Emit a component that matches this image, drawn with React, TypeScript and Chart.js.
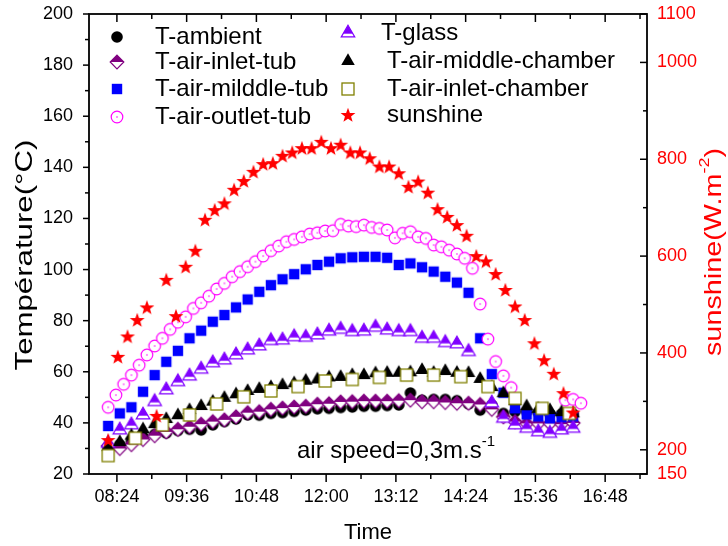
import React, { useEffect, useRef } from "react";
import { Chart, registerables } from "chart.js";

Chart.register(...registerables);

const FONT = '"Liberation Sans", Arial, Helvetica, sans-serif';

// ---- axis ticks ----
const TIME_TICKS = ["08:24", "09:36", "10:48", "12:00", "13:12", "14:24", "15:36", "16:48"];
const TIME_MINOR_TICKS = ["09:00", "10:12", "11:24", "12:36", "13:48", "15:00", "16:12", "17:24"];
const TEMP_TICKS = [20, 40, 60, 80, 100, 120, 140, 160, 180, 200];
const TEMP_MINOR_TICKS = [30, 50, 70, 90, 110, 130, 150, 170, 190];
const SUN_TICKS = [150, 200, 400, 600, 800, 1000, 1100];
const SUN_MINOR_TICKS = [300, 500, 700, 900];
const X_MIN = 475.2; // minutes after midnight (07:55)
const X_MAX = 1051.2; // (17:31)

// ---- sample times ----
const TIMES_12MIN = [
  "08:15", "08:27", "08:39", "08:51", "09:03", "09:15", "09:27", "09:39", "09:51", "10:03",
  "10:15", "10:27", "10:39", "10:51", "11:03", "11:15", "11:27", "11:39", "11:51", "12:03",
  "12:15", "12:27", "12:39", "12:51", "13:03", "13:15", "13:27", "13:39", "13:51", "14:03",
  "14:15", "14:27", "14:39", "14:51", "15:03", "15:15", "15:27", "15:39", "15:51", "16:03",
  "16:15",
];
const TIMES_OUTLET = [
  "08:15", "08:23", "08:31", "08:39", "08:47", "08:55", "09:03", "09:11", "09:19", "09:27",
  "09:35", "09:43", "09:51", "09:59", "10:07", "10:15", "10:23", "10:31", "10:39", "10:47",
  "10:55", "11:03", "11:11", "11:19", "11:27", "11:35", "11:43", "11:51", "11:59", "12:07",
  "12:15", "12:23", "12:31", "12:39", "12:47", "12:55", "13:03", "13:11", "13:19", "13:27",
  "13:35", "13:43", "13:51", "13:59", "14:07", "14:15", "14:23", "14:31", "14:39", "14:47",
  "14:55", "15:03", "15:11", "16:07", "16:15", "16:23",
];
const TIMES_10MIN = [
  "08:15", "08:25", "08:35", "08:45", "08:55", "09:05", "09:15", "09:25", "09:35", "09:45",
  "09:55", "10:05", "10:15", "10:25", "10:35", "10:45", "10:55", "11:05", "11:15", "11:25",
  "11:35", "11:45", "11:55", "12:05", "12:15", "12:25", "12:35", "12:45", "12:55", "13:05",
  "13:15", "13:25", "13:35", "13:45", "13:55", "14:05", "14:15", "14:25", "14:35", "14:45",
  "14:55", "15:05", "15:15", "15:25", "15:35", "15:45", "15:55", "16:05", "16:15",
];
const TIMES_28MIN = [
  "08:15", "08:43", "09:11", "09:39", "10:07", "10:35", "11:03", "11:31", "11:59", "12:27",
  "12:55", "13:23", "13:51", "14:19", "14:47", "15:15", "15:43", "16:11",
];

// ---- series values ----
const T_AMBIENT = [
  30, 31.5, 33, 34.5, 35.5, 36, 37, 37.5, 37.2, 39.2, 40.5, 41.5, 43.1, 43, 43.7, 44, 44.5, 45,
  45.5, 45.7, 46, 46.2, 46.5, 46.5, 46.8, 47, 51.7, 48.9, 49.2, 49.2, 48.7, 47.4, 45, 47, 43.7,
  44.4, 44.4, 44, 43.5, 43.5, 43.5,
];
const T_AIR_INLET_TUB = [
  31, 30, 31.5, 33.5, 35, 36.5, 37.5, 38.5, 39.5, 40.5, 41.2, 42.4, 44, 44.4, 45.3, 45.8, 46.2,
  46.5, 47.3, 47.5, 48.2, 48.3, 48.5, 48.5, 48.5, 48.7, 48.9, 48.3, 48.3, 48, 47.7, 47.7, 47.2,
  45.3, 42.4, 40.5, 39.8, 39.8, 39.8, 39.5, 40,
];
const T_AIR_MIDDLE_TUB = [
  38.8, 43.7, 46.1, 52.2, 58.7, 63.9, 68.2, 73.1, 76.1, 79.6, 82.2, 85.2, 88.3, 91.3, 93.9, 96.2,
  98.2, 100.1, 101.8, 103.1, 104.4, 104.8, 105, 105, 104.6, 101.8, 102.4, 100.9, 99.2, 97.2, 94.9,
  90.9, 73.1, 59.1, 51.8, 45.7, 43.3, 42.5, 41.8, 42.2, 42.5,
];
const T_AIR_OUTLET_TUB = [
  46.1, 50.9, 55.1, 58.7, 62.6, 66.6, 70.1, 73.1, 76.6, 79.4, 81.5, 84.8, 87, 89.6, 92.4, 94.6,
  97.2, 99.2, 101.1, 103.1, 105.3, 107.4, 109.2, 110.9, 111.8, 112.8, 113.9, 114.4, 115.1, 115.2,
  117.7, 117, 116.8, 117.4, 116.5, 116.1, 115.5, 112.4, 114.2, 114.8, 112.8, 112.2, 109.6, 108.9,
  107.6, 106.1, 104.4, 100.5, 86.5, 72.8, 64, 58.4, 53.8, 48.9, 49.2, 47.7,
];
const T_GLASS = [
  32, 37.2, 39.2, 43.1, 48.3, 52.9, 56.1, 58.3, 61, 63.5, 64.6, 66.6, 68.5, 70.1, 72.2, 72.4,
  73.7, 73.5, 74.4, 75.9, 76.6, 75.7, 75.9, 77.4, 76.3, 75.7, 75.7, 73.1, 73.1, 71.4, 70.9, 67.9,
  null, 47.8, 41.8, 39.2, 37.9, 36.5, 35.9, 37.2, 37.9,
];
const T_AIR_MIDDLE_CHAMBER = [
  30.5, 32.5, 35, 37.5, 39.5, 41.5, 43, 45, 46.6, 48.3, 49.8, 51.2, 52.5, 53.3, 54, 54.8, 55.5,
  56.5, 57, 57.8, 58, 58.7, 58.7, 59.4, 59.6, 59.6, 59.8, 60.7, 59.6, 60.3, 59.6, 59.5, 57.2, 54,
  51.6, 48.5, 46.5, 45.5, 45, 44.2, 43.7,
];
const T_AIR_INLET_CHAMBER = [
  27.2, 34, 39.2, 43.1, 47.4, 50.2, 52.5, 54.2, 56.4, 57, 57.8, 58.7, 58.7, 58.1, 54.2, 49.6,
  45.7, 43.7,
];
const SUNSHINE = [
  220, 392, 434, 468, 494, 270, 551, 476, 578, 611, 675, 695, 709, 737, 755, 774, 790, 792, 807,
  814, 823, 823, 836, 823, 830, 814, 814, 802, 785, 785, 771, 743, 754, 731, 697, 681, 664, 642,
  600, 589, 563, 530, 496, 468, 420, 385, 357, 317, 277,
];

const toMin = (s: string) => {
  const [h, m] = s.split(":").map(Number);
  return h * 60 + m;
};

type MarkerKey =
  | "ambient" | "inletTub" | "middleTub" | "outletTub"
  | "glass" | "middleChamber" | "inletChamber" | "sunshine";

function makeCanvas(size: number, draw: (ctx: CanvasRenderingContext2D, c: number) => void) {
  const cv = document.createElement("canvas");
  cv.width = size;
  cv.height = size;
  const ctx = cv.getContext("2d")!;
  draw(ctx, size / 2);
  return cv;
}

function makeMarkers(): Record<MarkerKey, HTMLCanvasElement> {
  const S = 20;
  return {
    ambient: makeCanvas(S, (ctx, c) => {
      ctx.fillStyle = "#000";
      ctx.beginPath();
      ctx.arc(c, c, 5.8, 0, Math.PI * 2);
      ctx.fill();
    }),
    inletTub: makeCanvas(S, (ctx, c) => {
      const r = 6.8;
      const diamond = () => {
        ctx.beginPath();
        ctx.moveTo(c, c - r);
        ctx.lineTo(c + r, c);
        ctx.lineTo(c, c + r);
        ctx.lineTo(c - r, c);
        ctx.closePath();
      };
      diamond();
      ctx.fillStyle = "#fff";
      ctx.fill();
      ctx.beginPath();
      ctx.moveTo(c, c - r);
      ctx.lineTo(c + r, c);
      ctx.lineTo(c - r, c);
      ctx.closePath();
      ctx.fillStyle = "#800080";
      ctx.fill();
      diamond();
      ctx.strokeStyle = "#800080";
      ctx.lineWidth = 1.2;
      ctx.stroke();
    }),
    middleTub: makeCanvas(S, (ctx, c) => {
      ctx.fillStyle = "#0000ff";
      ctx.fillRect(c - 5.2, c - 5.2, 10.4, 10.4);
    }),
    outletTub: makeCanvas(S, (ctx, c) => {
      ctx.beginPath();
      ctx.arc(c, c, 5.8, 0, Math.PI * 2);
      ctx.fillStyle = "#fff";
      ctx.fill();
      ctx.strokeStyle = "#ff00ff";
      ctx.lineWidth = 1.2;
      ctx.stroke();
      ctx.beginPath();
      ctx.arc(c, c, 0.8, 0, Math.PI * 2);
      ctx.fillStyle = "#ff00ff";
      ctx.fill();
    }),
    glass: makeCanvas(S, (ctx, c) => {
      const R = 7.8;
      const top = c - R, bot = c + R / 2, hw = (R * Math.sqrt(3)) / 2;
      const path = () => {
        ctx.beginPath();
        ctx.moveTo(c, top);
        ctx.lineTo(c + hw, bot);
        ctx.lineTo(c - hw, bot);
        ctx.closePath();
      };
      path();
      ctx.fillStyle = "#fff";
      ctx.fill();
      ctx.save();
      path();
      ctx.clip();
      ctx.fillStyle = "#8000ff";
      ctx.fillRect(0, 0, S, bot - 3.2);
      ctx.restore();
      path();
      ctx.strokeStyle = "#8000ff";
      ctx.lineWidth = 1.2;
      ctx.stroke();
    }),
    middleChamber: makeCanvas(S, (ctx, c) => {
      const R = 7.8;
      const hw = (R * Math.sqrt(3)) / 2;
      ctx.beginPath();
      ctx.moveTo(c, c - R);
      ctx.lineTo(c + hw, c + R / 2);
      ctx.lineTo(c - hw, c + R / 2);
      ctx.closePath();
      ctx.fillStyle = "#000";
      ctx.fill();
    }),
    inletChamber: makeCanvas(S, (ctx, c) => {
      ctx.fillStyle = "#fff";
      ctx.fillRect(c - 6, c - 6, 12, 12);
      ctx.strokeStyle = "#808000";
      ctx.lineWidth = 1.3;
      ctx.strokeRect(c - 6, c - 6, 12, 12);
    }),
    sunshine: makeCanvas(S, (ctx, c) => {
      const Ro = 7.8, Ri = 3.2;
      ctx.beginPath();
      for (let i = 0; i < 10; i++) {
        const a = -Math.PI / 2 + (i * Math.PI) / 5;
        const r = i % 2 === 0 ? Ro : Ri;
        const px = c + r * Math.cos(a), py = c + 0.5 + r * Math.sin(a);
        if (i === 0) ctx.moveTo(px, py);
        else ctx.lineTo(px, py);
      }
      ctx.closePath();
      ctx.fillStyle = "#ff0000";
      ctx.fill();
    }),
  };
}

const SERIES: {
  key: MarkerKey; label: string; times: string[]; values: (number | null)[]; axis: string; order: number;
}[] = [
  { key: "ambient", label: "T-ambient", times: TIMES_12MIN, values: T_AMBIENT, axis: "y", order: 8 },
  { key: "inletTub", label: "T-air-inlet-tub", times: TIMES_12MIN, values: T_AIR_INLET_TUB, axis: "y", order: 7 },
  { key: "middleTub", label: "T-air-milddle-tub", times: TIMES_12MIN, values: T_AIR_MIDDLE_TUB, axis: "y", order: 6 },
  { key: "outletTub", label: "T-air-outlet-tub", times: TIMES_OUTLET, values: T_AIR_OUTLET_TUB, axis: "y", order: 5 },
  { key: "glass", label: "T-glass", times: TIMES_12MIN, values: T_GLASS, axis: "y", order: 4 },
  { key: "middleChamber", label: "T-air-middle-chamber", times: TIMES_12MIN, values: T_AIR_MIDDLE_CHAMBER, axis: "y", order: 3 },
  { key: "inletChamber", label: "T-air-inlet-chamber", times: TIMES_28MIN, values: T_AIR_INLET_CHAMBER, axis: "y", order: 2 },
  { key: "sunshine", label: "sunshine", times: TIMES_10MIN, values: SUNSHINE, axis: "y2", order: 1 },
];

// legend layout: [series index, marker x, marker y, text x]
const LEGEND_LAYOUT = [
  [0, 117, 37, 155], [1, 117, 62, 155], [2, 117, 89, 155], [3, 117, 117, 155],
  [4, 348, 33, 381], [5, 348, 61, 387], [6, 348, 89, 387], [7, 348, 115, 387],
];

export default function App() {
  const ref = useRef<HTMLCanvasElement>(null);

  useEffect(() => {
    if (!ref.current) return;
    const markers = makeMarkers();

    const line = (ctx: CanvasRenderingContext2D, x1: number, y1: number, x2: number, y2: number) => {
      ctx.beginPath();
      ctx.moveTo(x1, y1);
      ctx.lineTo(x2, y2);
      ctx.stroke();
    };

    const framePlugin = {
      id: "frame",
      afterDatasetsDraw(chart: any) {
        const { ctx, chartArea: a, scales } = chart;
        ctx.save();
        ctx.strokeStyle = "#000";
        ctx.lineWidth = 1.8;
        ctx.strokeRect(a.left, a.top, a.right - a.left, a.bottom - a.top);
        ctx.lineWidth = 1.5;
        TIME_TICKS.forEach((t) => {
          const px = scales.x.getPixelForValue(toMin(t));
          line(ctx, px, a.bottom, px, a.bottom + 8);
          line(ctx, px, a.top, px, a.top + 8);
        });
        TIME_MINOR_TICKS.forEach((t) => {
          const px = scales.x.getPixelForValue(toMin(t));
          line(ctx, px, a.bottom, px, a.bottom + 5);
          line(ctx, px, a.top, px, a.top + 5);
        });
        TEMP_TICKS.forEach((v) => {
          const py = scales.y.getPixelForValue(v);
          line(ctx, a.left, py, a.left - 6, py);
        });
        TEMP_MINOR_TICKS.forEach((v) => {
          const py = scales.y.getPixelForValue(v);
          line(ctx, a.left, py, a.left - 4, py);
        });
        SUN_TICKS.forEach((v) => {
          const py = scales.y2.getPixelForValue(v);
          line(ctx, a.right, py, a.right - 7, py);
        });
        SUN_MINOR_TICKS.forEach((v) => {
          const py = scales.y2.getPixelForValue(v);
          line(ctx, a.right, py, a.right - 4, py);
        });
        ctx.restore();
      },
    };

    const textPlugin = {
      id: "texts",
      afterDraw(chart: any) {
        const { ctx } = chart;
        ctx.save();
        // legend
        ctx.textBaseline = "middle";
        ctx.textAlign = "left";
        ctx.fillStyle = "#000";
        ctx.font = `24px ${FONT}`;
        LEGEND_LAYOUT.forEach(([i, mx, my, tx]) => {
          const s = SERIES[i];
          const m = markers[s.key];
          ctx.drawImage(m, mx - m.width / 2, my - m.height / 2);
          ctx.fillText(s.label, tx, my);
        });
        // x title
        ctx.textAlign = "center";
        ctx.font = `22px ${FONT}`;
        ctx.fillText("Time", 368, 533);
        // left title (text is drawn elongated along its direction, as in the source figure)
        ctx.save();
        ctx.translate(25, 255);
        ctx.rotate(-Math.PI / 2);
        ctx.scale(1.3, 1);
        ctx.font = `24px ${FONT}`;
        ctx.fillText("Température(°C)", 0, 0);
        ctx.restore();
        const drawSup = (parts: [string, boolean][], x: number, y: number, big: number, small: number, align: "left" | "center") => {
          let total = 0;
          parts.forEach(([t, sup]) => {
            ctx.font = `${sup ? small : big}px ${FONT}`;
            total += ctx.measureText(t).width;
          });
          let cx = align === "center" ? x - total / 2 : x;
          ctx.textAlign = "left";
          parts.forEach(([t, sup]) => {
            ctx.font = `${sup ? small : big}px ${FONT}`;
            ctx.fillText(t, cx, sup ? y - big * 0.38 : y);
            cx += ctx.measureText(t).width;
          });
        };
        // right title
        ctx.save();
        ctx.translate(714, 252);
        ctx.rotate(-Math.PI / 2);
        ctx.scale(1.2, 1);
        ctx.fillStyle = "#ff0000";
        drawSup([["sunshine(W.m", false], ["-2", true], [")", false]], 0, 0, 24, 15, "center");
        ctx.restore();
        // annotation
        ctx.fillStyle = "#000";
        drawSup([["air speed=0,3m.s", false], ["-1", true]], 396, 451, 24, 15, "center");
        ctx.restore();
      },
    };

    const datasets = SERIES.map((s) => ({
      label: s.label,
      data: s.times.map((t, i) => ({ x: toMin(t), y: s.values[i] })),
      yAxisID: s.axis,
      order: s.order,
      showLine: false,
      pointStyle: markers[s.key],
      pointRadius: 6,
      pointHoverRadius: 6,
    }));

    const noPadV = (s: any) => {
      s.paddingTop = 0;
      s.paddingBottom = 0;
    };

    const chart = new Chart(ref.current, {
      type: "scatter",
      data: { datasets } as any,
      options: {
        animation: false,
        responsive: false,
        maintainAspectRatio: false,
        events: [],
        layout: { padding: { top: 14, left: 0, right: 0, bottom: 0 } },
        plugins: { legend: { display: false }, tooltip: { enabled: false } },
        scales: {
          x: {
            type: "linear",
            position: "bottom",
            min: X_MIN,
            max: X_MAX,
            grid: { display: false, drawTicks: false },
            border: { display: false },
            ticks: {
              color: "#000",
              font: { family: FONT, size: 18 },
              padding: 12,
              maxRotation: 0,
              autoSkip: false,
              callback: (v: any) => {
                const idx = TIME_TICKS.findIndex((t) => toMin(t) === v);
                return idx >= 0 ? TIME_TICKS[idx] : "";
              },
            },
            afterBuildTicks: (s: any) => {
              s.ticks = TIME_TICKS.map((t) => ({ value: toMin(t) }));
            },
            afterFit: (s: any) => {
              s.height = 72;
              s.paddingLeft = 0;
              s.paddingRight = 0;
            },
          },
          y: {
            type: "linear",
            position: "left",
            min: 20,
            max: 200,
            grid: { display: false, drawTicks: false },
            border: { display: false },
            ticks: { color: "#000", font: { family: FONT, size: 18 }, padding: 16, callback: (v: any) => String(v) },
            afterBuildTicks: (s: any) => {
              s.ticks = TEMP_TICKS.map((v) => ({ value: v }));
            },
            afterFit: (s: any) => {
              s.width = 89;
              noPadV(s);
            },
          },
          y2: {
            type: "linear",
            position: "right",
            min: 150,
            max: 1100,
            grid: { display: false, drawTicks: false },
            border: { display: false },
            ticks: { color: "#ff0000", font: { family: FONT, size: 18 }, padding: 10, callback: (v: any) => String(v) },
            afterBuildTicks: (s: any) => {
              s.ticks = SUN_TICKS.map((v) => ({ value: v }));
            },
            afterFit: (s: any) => {
              s.width = 81;
              noPadV(s);
            },
          },
        },
      } as any,
      plugins: [framePlugin, textPlugin],
    });
    return () => chart.destroy();
  }, []);

  return (
    <div style={{ position: "absolute", left: 0, top: 0, width: 728, height: 546, background: "#fff" }}>
      <canvas ref={ref} width={728} height={546} style={{ display: "block", width: 728, height: 546 }} />
    </div>
  );
}
